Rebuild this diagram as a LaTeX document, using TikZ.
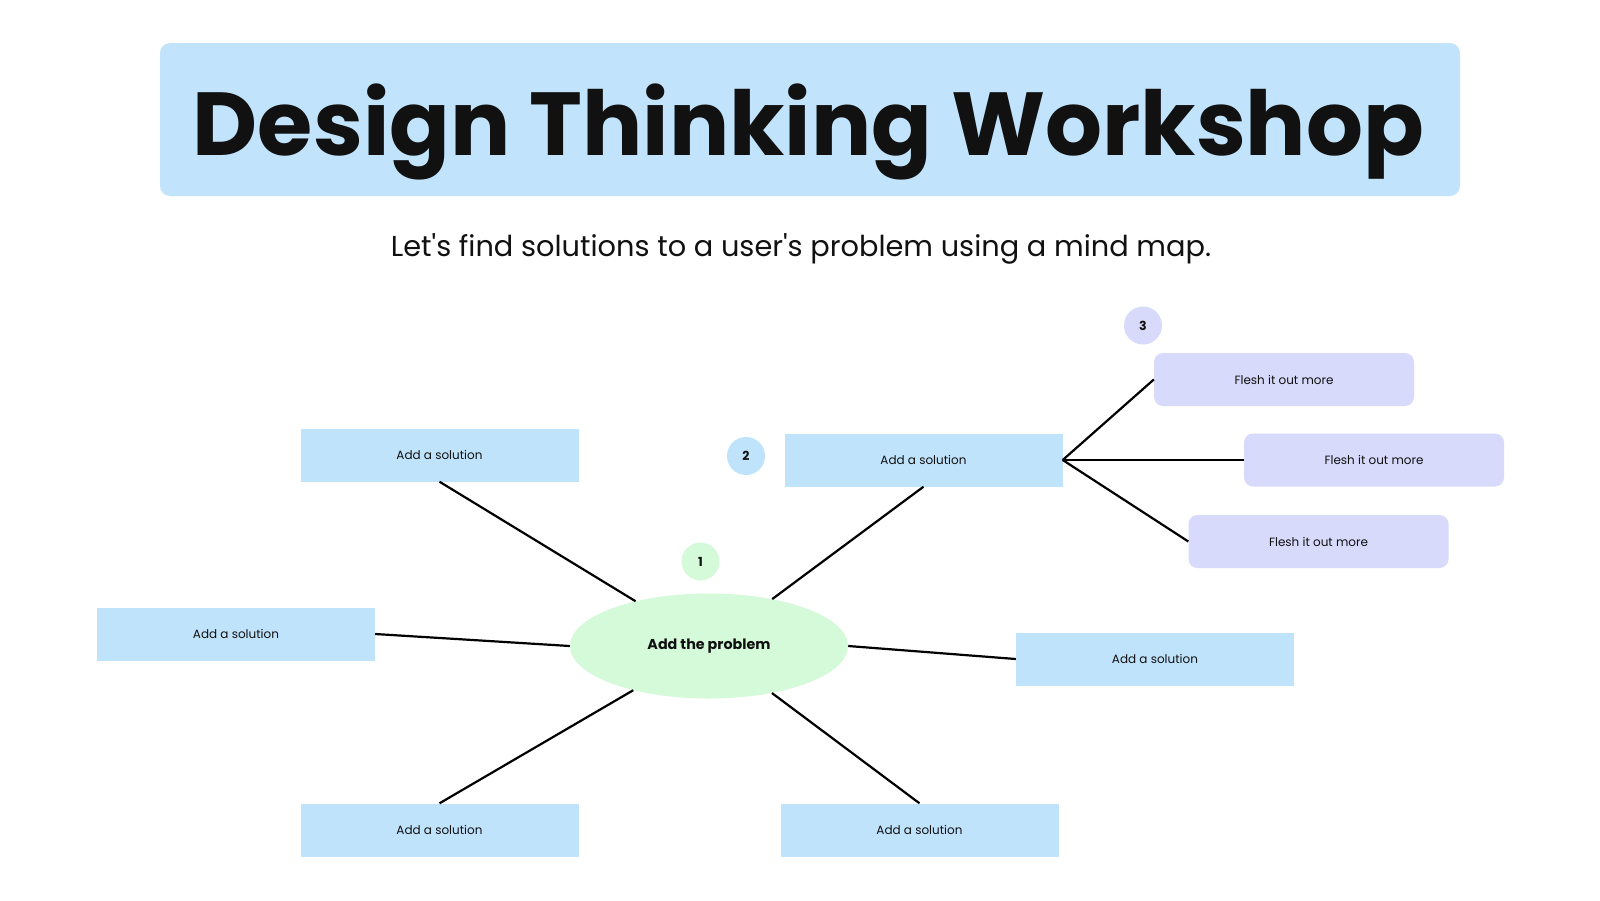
\documentclass[tikz,border=0pt]{standalone}
\usepackage{fontspec}
\setmainfont{Poppins}[Ligatures=TeXOff]
\usetikzlibrary{shapes.geometric}
\definecolor{titleblue}{HTML}{C1E4FC}
\definecolor{boxblue}{HTML}{C0E3FC}
\definecolor{boxpurple}{HTML}{D7DAFB}
\definecolor{boxgreen}{HTML}{D4FAD9}
\definecolor{ink}{HTML}{111111}
\tikzset{
  solbox/.style={fill=boxblue, minimum width=278pt, minimum height=53pt, inner sep=0pt,
    font=\fontsize{12}{14}\selectfont, text=ink},
  fleshbox/.style={fill=boxpurple, rounded corners=9pt, minimum width=260pt, minimum height=53pt, inner sep=0pt,
    font=\fontsize{12}{14}\selectfont, text=ink},
  numdot/.style={circle, minimum size=38pt, inner sep=0pt, font=\fontsize{12.5}{14}\selectfont\bfseries, text=ink},
  link/.style={line width=2.2pt, draw=black}
}
\begin{document}
\begin{tikzpicture}[x=1pt, y=-1pt]
\useasboundingbox (0,0) rectangle (1600,900);
\fill[white] (0,0) rectangle (1600,900);
% title
\node[fill=titleblue, rounded corners=10pt, minimum width=1300pt, minimum height=153pt, inner sep=0pt] (titlebox) at (810,119.5) {};
\node[font=\fontsize{89.5}{100}\selectfont\bfseries, text=ink, anchor=base, inner sep=0pt] (title) at (808.5,155) {Design Thinking Workshop};
\node[font=\fontsize{28.8}{34}\selectfont, text=ink] (sub) at (801,249) {Let's find solutions to a user's problem using a mind map.};
% central problem
\node[ellipse, fill=boxgreen, minimum width=278pt, minimum height=105pt, inner sep=0pt,
  font=\fontsize{14.3}{17}\selectfont\bfseries, text=ink] (prob) at (709,646) {Add the problem};
\node[numdot, fill=boxgreen] (n1) at (700.5,561.5) {1};
% solutions
\node[solbox] (ul) at (439.5,455) {Add a solution};
\node[solbox] (lf) at (236,634) {Add a solution};
\node[solbox] (bl) at (439.5,830) {Add a solution};
\node[solbox] (ur) at (923.5,460) {Add a solution};
\node[solbox] (rt) at (1155,659) {Add a solution};
\node[solbox] (br) at (919.5,830) {Add a solution};
\node[numdot, fill=boxblue] (n2) at (746,456) {2};
% flesh out
\node[fleshbox] (f1) at (1284,379.5) {Flesh it out more};
\node[fleshbox] (f2) at (1374,460) {Flesh it out more};
\node[fleshbox] (f3) at (1318.5,541.5) {Flesh it out more};
\node[numdot, fill=boxpurple] (n3) at (1143,325.5) {3};
% connectors
\draw[link] (ul.south) -- (prob);
\draw[link] (lf.east) -- (prob.west);
\draw[link] (bl.north) -- (prob);
\draw[link] (ur.south) -- (prob);
\draw[link] (prob.east) -- (rt.west);
\draw[link] (br.north) -- (prob);
\draw[link] (ur.east) -- (f1.west);
\draw[link] (ur.east) -- (f2.west);
\draw[link] (ur.east) -- (f3.west);
\end{tikzpicture}
\end{document}
